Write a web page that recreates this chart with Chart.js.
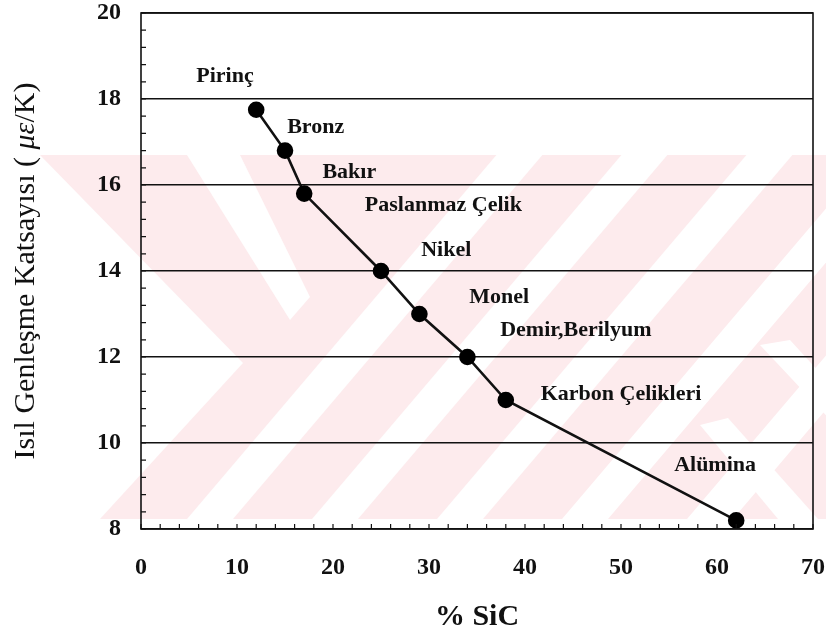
<!DOCTYPE html>
<html>
<head>
<meta charset="utf-8">
<script src="https://cdn.jsdelivr.net/npm/chart.js@4/dist/chart.umd.min.js"></script>
<style>
  html, body { margin: 0; padding: 0; background: #fff; }
  #wrap { width: 826px; height: 637px; }
</style>
</head>
<body>
<div id="wrap"><canvas id="chart" width="826" height="637"></canvas></div>
<script>
// SiC content (%) and thermal expansion coefficient (µε/K) of the composite
const sicPercent     = [12, 15, 17, 25, 29, 34, 38, 62];
const expansionCoeff = [17.75, 16.8, 15.8, 14, 13, 12, 11, 8.2];

// Reference materials with a comparable expansion coefficient
const materialNames = ['Pirinç', 'Bronz', 'Bakır', 'Paslanmaz Çelik', 'Nikel',
                       'Monel', 'Demir,Berilyum', 'Karbon Çelikleri', 'Alümina'];
// where each material name sits, in axis units (x: % SiC, y: coefficient)
const materialLabelX = [8.75, 18.2, 21.7, 31.5, 31.8, 37.3, 45.3, 50.0, 59.8];
const materialLabelY = [18.52, 17.33, 16.3, 15.52, 14.47, 13.38, 12.61, 11.14, 9.47];

// Axis ticks
const xTicks = [0, 10, 20, 30, 40, 50, 60, 70];
const yTicks = [8, 10, 12, 14, 16, 18, 20];

const SERIF = "'Liberation Serif', 'Times New Roman', serif";
const INK = '#111';

// Light red diagonal band pattern printed behind the figure
const backdrop = {
  id: 'backdrop',
  beforeDraw(chart) {
    const c = chart.ctx;
    c.save();
    c.fillStyle = '#fff';
    c.fillRect(0, 0, chart.width, chart.height);
    const top = 155, bottom = 519;
    c.beginPath();
    c.rect(0, top, chart.width, bottom - top);
    c.clip();
    c.fillStyle = 'rgb(253,235,237)';
    c.fillRect(0, top, chart.width, bottom - top);
    c.fillStyle = '#fff';
    const poly = pts => {
      c.beginPath();
      pts.forEach(([x, y], i) => i ? c.lineTo(x, y) : c.moveTo(x, y));
      c.closePath();
      c.fill();
    };
    // left chevrons
    poly([[0, 155], [40, 155], [243, 363], [100, 519], [0, 519]]);
    poly([[187, 155], [240, 155], [310, 297], [290, 320]]);
    // rising stripes
    const rise = (bottom - top) * 0.85;
    for (let k = 0; k < 5; k++) {
      const xb = 187 + 125 * k;
      poly([[xb, bottom], [xb + 46, bottom], [xb + 46 + rise, top], [xb + rise, top]]);
    }
    // falling stripes on the right
    poly([[700, 425], [728, 418], [818, 519], [778, 519]]);
    poly([[760, 345], [790, 340], [840, 395], [840, 430]]);
    c.restore();
  }
};

// Closed frame, inward minor ticks, material names and the rotated y title
const decorations = {
  id: 'decorations',
  afterDraw(chart) {
    const c = chart.ctx;
    const { left, right, top, bottom } = chart.chartArea;
    const xs = chart.scales.x, ys = chart.scales.y;
    c.save();
    c.strokeStyle = INK;
    c.lineWidth = 1.6;
    c.strokeRect(left, top, right - left, bottom - top);

    c.lineWidth = 1.2;
    c.beginPath();
    for (let i = 0; i <= 30; i++) {
      const py = ys.getPixelForValue(ys.min + i * 0.4);
      c.moveTo(left, py); c.lineTo(left + 5, py);
    }
    for (let i = 0; i <= 35; i++) {
      const px = xs.getPixelForValue(xs.min + i * 2);
      c.moveTo(px, bottom); c.lineTo(px, bottom - 5);
    }
    c.stroke();

    c.fillStyle = INK;
    c.font = `bold 22px ${SERIF}`;
    c.textAlign = 'center';
    c.textBaseline = 'middle';
    materialNames.forEach((name, i) => {
      c.fillText(name, xs.getPixelForValue(materialLabelX[i]), ys.getPixelForValue(materialLabelY[i]));
    });

    // y-axis title with the italic unit symbol
    const parts = [
      { t: 'Isıl Genleşme Katsayısı ( ', f: `30px ${SERIF}` },
      { t: 'με', f: `italic 30px ${SERIF}` },
      { t: '/K)', f: `30px ${SERIF}` }
    ];
    let total = 0;
    parts.forEach(p => { c.font = p.f; p.w = c.measureText(p.t).width; total += p.w; });
    c.translate(34, (top + bottom) / 2);
    c.rotate(-Math.PI / 2);
    c.textAlign = 'left';
    c.textBaseline = 'alphabetic';
    let x = -total / 2;
    parts.forEach(p => { c.font = p.f; c.fillText(p.t, x, 0); x += p.w; });

    c.restore();
  }
};

const points = sicPercent.map((x, i) => ({ x, y: expansionCoeff[i] }));

// keep the plot box fixed: no extra room for overhanging tick labels
const noOverhang = s => {
  s.paddingLeft = 0; s.paddingRight = 0; s.paddingTop = 0; s.paddingBottom = 0;
};

new Chart(document.getElementById('chart'), {
  type: 'scatter',
  data: {
    datasets: [{
      data: points,
      showLine: true,
      borderColor: INK,
      borderWidth: 2.6,
      backgroundColor: '#000',
      pointBackgroundColor: '#000',
      pointBorderColor: '#000',
      pointRadius: 7,
      pointHoverRadius: 7,
      tension: 0
    }]
  },
  options: {
    responsive: false,
    devicePixelRatio: 1,
    animation: false,
    events: [],
    layout: { padding: { left: 0, right: 13, top: 13, bottom: 0 } },
    plugins: { legend: { display: false }, tooltip: { enabled: false } },
    scales: {
      x: {
        type: 'linear',
        min: 0, max: 70,
        afterBuildTicks: s => { s.ticks = xTicks.map(v => ({ value: v })); },
        afterFit: s => { s.height = 108; noOverhang(s); },
        grid: { display: false, drawTicks: false },
        border: { display: false },
        ticks: {
          color: INK, padding: 24, maxRotation: 0,
          font: { family: SERIF, size: 24, weight: 'bold' }
        },
        title: {
          display: true, text: '% SiC', color: INK,
          font: { family: SERIF, size: 30, weight: 'bold' },
          padding: { top: 0, bottom: 2 }
        }
      },
      y: {
        type: 'linear',
        min: 8, max: 20,
        afterBuildTicks: s => { s.ticks = yTicks.map(v => ({ value: v })); },
        afterFit: s => { s.width = 141; noOverhang(s); },
        grid: { color: INK, lineWidth: 1.5, drawTicks: false },
        border: { display: false },
        ticks: {
          color: INK, padding: 20,
          font: { family: SERIF, size: 24, weight: 'bold' }
        }
      }
    }
  },
  plugins: [backdrop, decorations]
});
</script>
</body>
</html>
